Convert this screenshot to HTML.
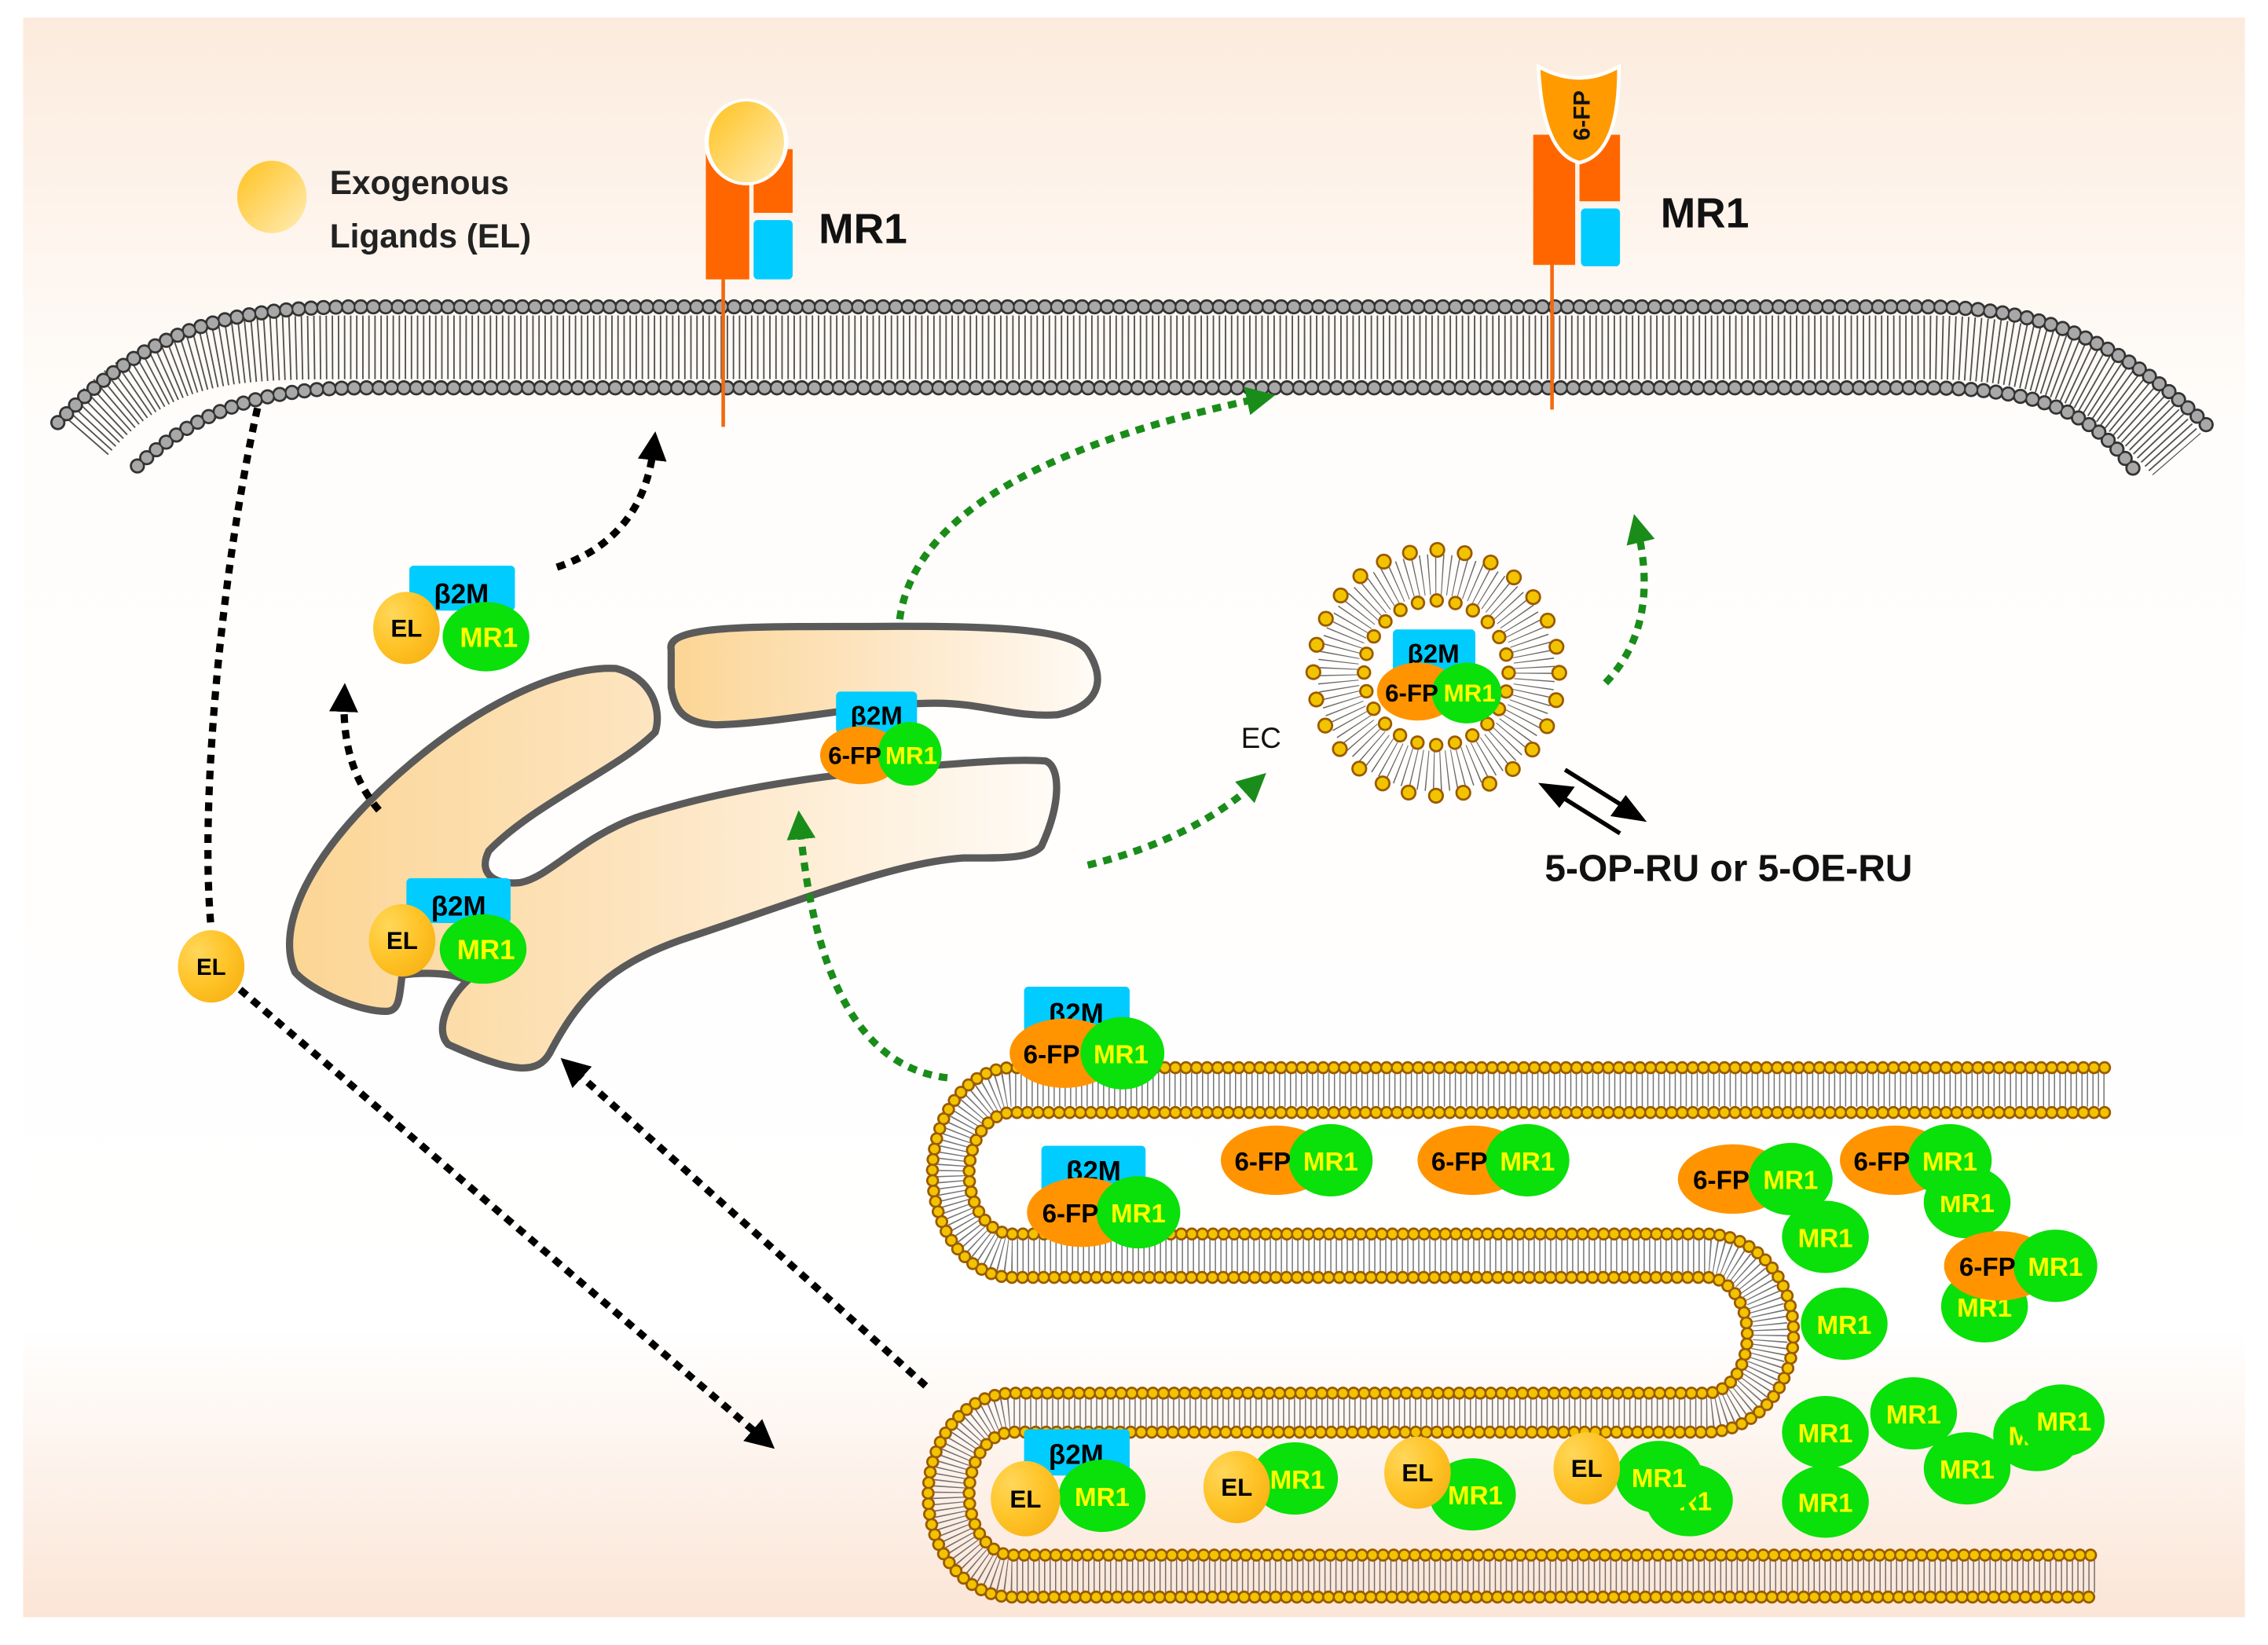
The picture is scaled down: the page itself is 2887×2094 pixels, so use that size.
<!DOCTYPE html>
<html><head><meta charset="utf-8"><style>
html,body{margin:0;padding:0;background:#fff}
svg{display:block}
text{font-family:"Liberation Sans",sans-serif}
</style></head><body>
<svg width="2887" height="2094" viewBox="0 0 1568 1137" xmlns="http://www.w3.org/2000/svg">
<defs>
<linearGradient id="bg" x1="0" y1="0" x2="0" y2="1">
<stop offset="0" stop-color="#fcebdd"/><stop offset="0.25" stop-color="#fffdfb"/><stop offset="0.82" stop-color="#ffffff"/><stop offset="1" stop-color="#fbe5d6"/></linearGradient>
<radialGradient id="elg" cx="0.3" cy="0.3" r="0.9"><stop offset="0" stop-color="#ffd75a"/><stop offset="0.5" stop-color="#ffc428"/><stop offset="1" stop-color="#f5ae10"/></radialGradient>
<linearGradient id="elg2" x1="0" y1="0" x2="1" y2="1"><stop offset="0" stop-color="#ffc21e"/><stop offset="1" stop-color="#ffedb8"/></linearGradient>
<linearGradient id="er" x1="0" y1="0" x2="1" y2="0"><stop offset="0" stop-color="#fcd594"/><stop offset="0.5" stop-color="#fde6c4"/><stop offset="1" stop-color="#fffbf6"/></linearGradient>
<marker id="ab" viewBox="0 0 10 10" refX="5" refY="5" markerWidth="4" markerHeight="4" orient="auto"><path d="M0,0 L10,5 L0,10 Z" fill="#000"/></marker>
<marker id="ag" viewBox="0 0 10 10" refX="5" refY="5" markerWidth="4" markerHeight="4" orient="auto"><path d="M0,0 L10,5 L0,10 Z" fill="#1a8c1a"/></marker>
</defs>
<rect x="0" y="0" width="1568" height="1137" fill="#fff"/>
<rect x="16" y="12" width="1536" height="1106" fill="url(#bg)"/>

<!-- plasma membrane -->
<g fill="none">
<path d="M58,300 C110,240 160,240 250,240 L1330,240 C1420,240 1460,262 1505,314" stroke="#333" stroke-width="44" stroke-dasharray="1 3.2" opacity="0.85"/>
<path d="M40,292 C100,230 150,212 250,212 L1330,212 C1420,212 1470,240 1530,298" stroke="#333" stroke-width="10.5" stroke-linecap="round" stroke-dasharray="0 8.6"/>
<path d="M40,292 C100,230 150,212 250,212 L1330,212 C1420,212 1470,240 1530,298" stroke="#a8a8a8" stroke-width="7.5" stroke-linecap="round" stroke-dasharray="0 8.6"/>
<path d="M95,322 C130,290 170,268 250,268 L1330,268 C1420,268 1450,290 1478,328" stroke="#333" stroke-width="10.5" stroke-linecap="round" stroke-dasharray="0 8.6"/>
<path d="M95,322 C130,290 170,268 250,268 L1330,268 C1420,268 1450,290 1478,328" stroke="#a8a8a8" stroke-width="7.5" stroke-linecap="round" stroke-dasharray="0 8.6"/>
</g>

<!-- legend -->
<ellipse cx="188" cy="136" rx="24" ry="25" fill="url(#elg2)"/>
<text x="228" y="134" font-size="23" font-weight="bold" fill="#222">Exogenous</text>
<text x="228" y="171" font-size="23" font-weight="bold" fill="#222">Ligands (EL)</text>

<!-- receptor 1 -->
<line x1="500" y1="190" x2="500" y2="295" stroke="#f26a10" stroke-width="2.5"/>
<rect x="488" y="103" width="30" height="90" fill="#ff6600"/>
<rect x="521" y="103" width="27" height="44" fill="#ff6600"/>
<rect x="521" y="152" width="27" height="41" rx="3" fill="#00ccff"/>
<ellipse cx="516" cy="98" rx="29" ry="30" fill="#fff"/>
<ellipse cx="516" cy="98" rx="26" ry="28" fill="url(#elg2)"/>
<text x="566" y="168" font-size="29" font-weight="bold" fill="#111">MR1</text>

<!-- receptor 2 -->
<line x1="1073" y1="180" x2="1073" y2="283" stroke="#f26a10" stroke-width="2.5"/>
<rect x="1060" y="93" width="29" height="90" fill="#ff6600"/>
<rect x="1092" y="93" width="28" height="46" fill="#ff6600"/>
<rect x="1093" y="144" width="27" height="40" rx="3" fill="#00ccff"/>
<path d="M1065,48 Q1068,105 1092,111 Q1118,105 1118,48 Q1092,62 1065,48 Z" fill="#fff" stroke="#fff" stroke-width="5"/>
<path d="M1065,48 Q1068,105 1092,111 Q1118,105 1118,48 Q1092,62 1065,48 Z" fill="#ff9a00"/>
<text transform="translate(1099,97) rotate(-90)" font-size="16" font-weight="bold" fill="#111">6-FP</text>
<text x="1148" y="157" font-size="29" font-weight="bold" fill="#111">MR1</text>

<!-- ER -->
<path d="M464,449 C460,432 520,433 600,433 C700,432 742,436 752,450 C765,470 760,488 731,494 C700,496 680,486 647,486 C600,486 540,500 495,501 C472,500 466,490 464,475 Z" fill="url(#er)" stroke="#5a5a5a" stroke-width="5"/>
<path d="M204,672 C190,640 215,590 270,540 C330,485 390,460 426,462 C450,468 458,490 453,506 C430,530 370,555 338,588 C330,604 342,612 360,610 C380,606 400,580 440,565 C500,545 560,538 610,532 C660,528 700,524 723,526 C733,530 734,555 720,585 C712,594 690,593 666,593 C620,596 560,620 470,650 C420,668 400,690 380,728 C372,742 356,743 310,722 C300,712 310,690 323,678 C313,672 292,672 278,674 C276,690 276,698 268,699 C250,700 215,685 204,672 Z" fill="url(#er)" stroke="#5a5a5a" stroke-width="5"/>

<!-- vesicle -->
<g fill="none">
<circle cx="993" cy="465" r="68" stroke="#444" stroke-width="28" stroke-dasharray="0.7 4" opacity="0.8"/>
<circle cx="993" cy="465" r="85" stroke="#9a5a00" stroke-width="11" stroke-linecap="round" stroke-dasharray="0 19.1"/>
<circle cx="993" cy="465" r="85" stroke="#f2c300" stroke-width="8" stroke-linecap="round" stroke-dasharray="0 19.1"/>
<circle cx="993" cy="465" r="50" stroke="#9a5a00" stroke-width="10" stroke-linecap="round" stroke-dasharray="0 13.1"/>
<circle cx="993" cy="465" r="50" stroke="#f2c300" stroke-width="7" stroke-linecap="round" stroke-dasharray="0 13.1"/>
</g>

<!-- lower membrane -->
<g fill="none">
<path d="M1455,753 H700 A42,57 0 0 0 700,868 H1180 A44,54 0 0 1 1180,976 H700 A44,56 0 0 0 700,1089 H1450" stroke="#444" stroke-width="24" stroke-dasharray="0.8 3" opacity="0.75"/>
<path d="M1455,738 H700 A55,72 0 0 0 700,883 H1180 A28,40 0 0 1 1180,963 H700 A58,70 0 0 0 700,1104 H1450" stroke="#9a5a00" stroke-width="9" stroke-linecap="round" stroke-dasharray="0 7.3"/>
<path d="M1455,738 H700 A55,72 0 0 0 700,883 H1180 A28,40 0 0 1 1180,963 H700 A58,70 0 0 0 700,1104 H1450" stroke="#f2c300" stroke-width="6" stroke-linecap="round" stroke-dasharray="0 7.3"/>
<path d="M1455,769 H700 A30,42 0 0 0 700,853 H1180 A60,68.5 0 0 1 1180,990 H700 A30,42.5 0 0 0 700,1075 H1450" stroke="#9a5a00" stroke-width="9" stroke-linecap="round" stroke-dasharray="0 7.3"/>
<path d="M1455,769 H700 A30,42 0 0 0 700,853 H1180 A60,68.5 0 0 1 1180,990 H700 A30,42.5 0 0 0 700,1075 H1450" stroke="#f2c300" stroke-width="6" stroke-linecap="round" stroke-dasharray="0 7.3"/>
</g>

<!-- arrows -->
<g fill="none" stroke-width="5" stroke-dasharray="6 5">
<path d="M178,282 C152,400 138,560 146,642" stroke="#000"/>
<path d="M166,684 L528,995" stroke="#000" marker-end="url(#ab)"/>
<path d="M385,392 Q445,372 452,308" stroke="#000" marker-end="url(#ab)"/>
<path d="M262,560 Q236,530 238,482" stroke="#000" marker-end="url(#ab)"/>
<path d="M640,958 L395,738" stroke="#000" marker-end="url(#ab)"/>
<path d="M622,428 Q636,325 872,275" stroke="#1a8c1a" marker-end="url(#ag)"/>
<path d="M752,598 Q825,580 868,541" stroke="#1a8c1a" marker-end="url(#ag)"/>
<path d="M1110,472 Q1148,432 1132,365" stroke="#1a8c1a" marker-end="url(#ag)"/>
<path d="M655,745 Q568,735 553,570" stroke="#1a8c1a" marker-end="url(#ag)"/>
</g>
<!-- equilibrium -->
<g stroke="#000" stroke-width="3" fill="#000">
<line x1="1082" y1="532" x2="1130" y2="562"/><path d="M1135,566 L1116,563 L1124,552 Z"/>
<line x1="1120" y1="576" x2="1072" y2="546"/><path d="M1067,543 L1086,545 L1078,556 Z"/>
</g>
<text x="858" y="517" font-size="20" fill="#111">EC</text>
<text x="1068" y="609" font-size="26" font-weight="bold" fill="#111">5-OP-RU or 5-OE-RU</text>

<!-- free EL -->
<ellipse cx="146" cy="668" rx="23" ry="25" fill="url(#elg)"/>
<text x="146" y="674" font-size="16" font-weight="bold" text-anchor="middle">EL</text>

<!-- complexes -->
<g font-weight="bold" text-anchor="middle">
<rect x="283" y="391" width="73" height="31" rx="3" fill="#00ccff"/><text x="319" y="417" font-size="19">β2M</text>
<ellipse cx="336" cy="440" rx="30" ry="24" fill="#0ae00a"/><text x="338" y="447" font-size="19" fill="#ffff00">MR1</text>
<ellipse cx="281" cy="434" rx="23" ry="25" fill="url(#elg)"/><text x="281" y="440" font-size="17">EL</text>
<rect x="281" y="607" width="72" height="31" rx="3" fill="#00ccff"/><text x="317" y="633" font-size="19">β2M</text>
<ellipse cx="334" cy="656" rx="30" ry="24" fill="#0ae00a"/><text x="336" y="663" font-size="19" fill="#ffff00">MR1</text>
<ellipse cx="278" cy="650" rx="23" ry="25" fill="url(#elg)"/><text x="278" y="656" font-size="17">EL</text>
<rect x="578" y="478" width="56" height="29" rx="3" fill="#00ccff"/><text x="606" y="501" font-size="18">β2M</text>
<ellipse cx="595" cy="522" rx="28" ry="20" fill="#ff9400"/>
<ellipse cx="629" cy="521" rx="22" ry="22" fill="#0ae00a"/>
<text x="591" y="528" font-size="17">6-FP</text><text x="630" y="528" font-size="17" fill="#ffff00">MR1</text>
<rect x="963" y="435" width="57" height="30" rx="3" fill="#00ccff"/><text x="991" y="458" font-size="18">β2M</text>
<ellipse cx="980" cy="478" rx="28" ry="20" fill="#ff9400"/>
<ellipse cx="1014" cy="479" rx="24" ry="21" fill="#0ae00a"/>
<text x="976" y="485" font-size="17">6-FP</text><text x="1016" y="485" font-size="17" fill="#ffff00">MR1</text>
</g>

<g font-weight="bold" text-anchor="middle" font-size="18">
<rect x="708" y="682" width="73" height="33" rx="3" fill="#00ccff"/><text x="744" y="707" font-size="19">β2M</text>
<ellipse cx="736" cy="728" rx="38" ry="24" fill="#ff9400"/><ellipse cx="776" cy="728" rx="29" ry="25" fill="#0ae00a"/>
<text x="727" y="735">6-FP</text><text x="775" y="735" fill="#ffff00">MR1</text>
<rect x="720" y="792" width="72" height="32" rx="3" fill="#00ccff"/><text x="756" y="816" font-size="19">β2M</text>
<ellipse cx="748" cy="838" rx="38" ry="24" fill="#ff9400"/><ellipse cx="787" cy="838" rx="29" ry="25" fill="#0ae00a"/>
<text x="740" y="845">6-FP</text><text x="787" y="845" fill="#ffff00">MR1</text>
<ellipse cx="882" cy="802" rx="38" ry="24" fill="#ff9400"/><ellipse cx="920" cy="802" rx="29" ry="25" fill="#0ae00a"/>
<text x="873" y="809">6-FP</text><text x="920" y="809" fill="#ffff00">MR1</text>
<ellipse cx="1018" cy="802" rx="38" ry="24" fill="#ff9400"/><ellipse cx="1056" cy="802" rx="29" ry="25" fill="#0ae00a"/>
<text x="1009" y="809">6-FP</text><text x="1056" y="809" fill="#ffff00">MR1</text>
<ellipse cx="1262" cy="855" rx="30" ry="25" fill="#0ae00a"/><text x="1262" y="862" fill="#ffff00">MR1</text>
<ellipse cx="1198" cy="815" rx="38" ry="24" fill="#ff9400"/><ellipse cx="1238" cy="815" rx="29" ry="25" fill="#0ae00a"/>
<text x="1190" y="822">6-FP</text><text x="1238" y="822" fill="#ffff00">MR1</text>
<ellipse cx="1360" cy="831" rx="30" ry="25" fill="#0ae00a"/><text x="1360" y="838" fill="#ffff00">MR1</text>
<ellipse cx="1310" cy="802" rx="38" ry="24" fill="#ff9400"/><ellipse cx="1348" cy="802" rx="29" ry="25" fill="#0ae00a"/>
<text x="1301" y="809">6-FP</text><text x="1348" y="809" fill="#ffff00">MR1</text>
<ellipse cx="1372" cy="903" rx="30" ry="25" fill="#0ae00a"/><text x="1372" y="910" fill="#ffff00">MR1</text>
<ellipse cx="1382" cy="875" rx="38" ry="24" fill="#ff9400"/><ellipse cx="1421" cy="875" rx="29" ry="25" fill="#0ae00a"/>
<text x="1374" y="882">6-FP</text><text x="1421" y="882" fill="#ffff00">MR1</text>
<ellipse cx="1275" cy="915" rx="30" ry="25" fill="#0ae00a"/><text x="1275" y="922" fill="#ffff00">MR1</text>
<ellipse cx="1262" cy="990" rx="30" ry="25" fill="#0ae00a"/><text x="1262" y="997" fill="#ffff00">MR1</text>
<ellipse cx="1323" cy="977" rx="30" ry="25" fill="#0ae00a"/><text x="1323" y="984" fill="#ffff00">MR1</text>
<ellipse cx="1408" cy="992" rx="30" ry="25" fill="#0ae00a"/><text x="1396" y="999" fill="#ffff00">M</text>
<ellipse cx="1425" cy="982" rx="30" ry="25" fill="#0ae00a"/><text x="1427" y="989" fill="#ffff00">MR1</text>
<ellipse cx="1360" cy="1015" rx="30" ry="25" fill="#0ae00a"/><text x="1360" y="1022" fill="#ffff00">MR1</text>
<ellipse cx="1262" cy="1038" rx="30" ry="25" fill="#0ae00a"/><text x="1262" y="1045" fill="#ffff00">MR1</text>
<rect x="708" y="988" width="73" height="32" rx="3" fill="#00ccff"/><text x="744" y="1012" font-size="19">β2M</text>
<ellipse cx="762" cy="1034" rx="30" ry="25" fill="#0ae00a"/><text x="762" y="1041" fill="#ffff00">MR1</text>
<ellipse cx="709" cy="1036" rx="24" ry="26" fill="url(#elg)"/><text x="709" y="1042" font-size="17" fill="#000">EL</text>
<ellipse cx="895" cy="1022" rx="30" ry="25" fill="#0ae00a"/><text x="897" y="1029" fill="#ffff00">MR1</text>
<ellipse cx="855" cy="1028" rx="23" ry="25" fill="url(#elg)"/><text x="855" y="1034" font-size="17" fill="#000">EL</text>
<ellipse cx="1018" cy="1033" rx="30" ry="25" fill="#0ae00a"/><text x="1020" y="1040" fill="#ffff00">MR1</text>
<ellipse cx="980" cy="1018" rx="23" ry="25" fill="url(#elg)"/><text x="980" y="1024" font-size="17" fill="#000">EL</text>
<ellipse cx="1168" cy="1037" rx="30" ry="25" fill="#0ae00a"/><text x="1172" y="1044" fill="#ffff00">R1</text>
<ellipse cx="1147" cy="1021" rx="30" ry="25" fill="#0ae00a"/><text x="1147" y="1028" fill="#ffff00">MR1</text>
<ellipse cx="1097" cy="1015" rx="23" ry="25" fill="url(#elg)"/><text x="1097" y="1021" font-size="17" fill="#000">EL</text>
</g>
</svg>
</body></html>
